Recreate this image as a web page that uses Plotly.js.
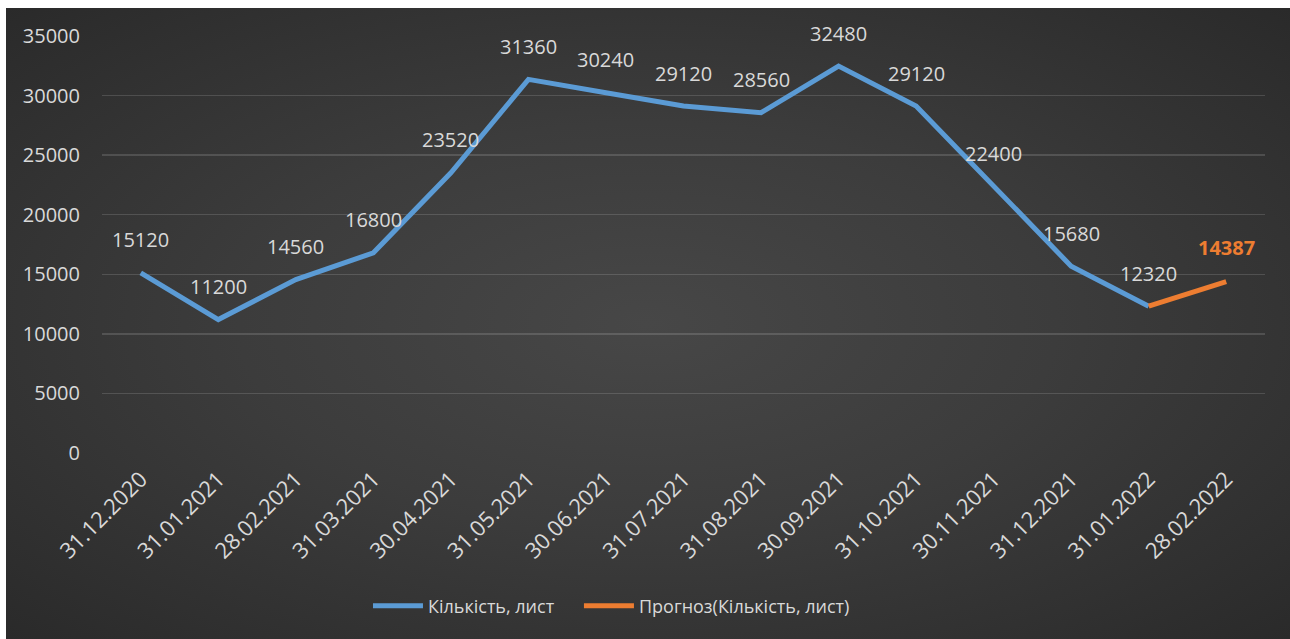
<!DOCTYPE html>
<html>
<head>
<meta charset="utf-8">
<script src="https://cdn.plot.ly/plotly-3.0.1.min.js"></script>
<style>
  html, body { margin: 0; padding: 0; background: #ffffff; }
  #wrap { position: absolute; left: 6px; top: 8px; width: 1284px; height: 631px;
    background: radial-gradient(ellipse farthest-corner at 50% 50%, #474747 0%, #3c3c3c 45%, #2a2a2a 100%); }
  #chart { width: 1284px; height: 631px; }
</style>
</head>
<body>
<div id="wrap"><div id="chart"></div></div>
<script>
const categories = ["31.12.2020","31.01.2021","28.02.2021","31.03.2021","30.04.2021","31.05.2021","30.06.2021","31.07.2021","31.08.2021","30.09.2021","31.10.2021","30.11.2021","31.12.2021","31.01.2022","28.02.2022"];
const actualDates = categories.slice(0, 14);
const actualValues = [15120, 11200, 14560, 16800, 23520, 31360, 30240, 29120, 28560, 32480, 29120, 22400, 15680, 12320];
const forecastDates = ["31.01.2022", "28.02.2022"];
const forecastValues = [12320, 14387];
const yTicks = [0, 5000, 10000, 15000, 20000, 25000, 30000, 35000];
const seriesNames = ["Кількість, лист", "Прогноз(Кількість, лист)"];

const FONT = '"Open Sans", "DejaVu Sans", sans-serif';
const TXT = '#d9d9d9';
const BLUE = '#5b9bd5';
const ORANGE = '#ed7d31';

const traces = [
  { x: actualDates, y: actualValues, type: 'scatter', mode: 'lines', name: seriesNames[0],
    legend: 'legend', line: { color: BLUE, width: 5 }, hoverinfo: 'skip' },
  { x: forecastDates, y: forecastValues, type: 'scatter', mode: 'lines', name: seriesNames[1],
    legend: 'legend2', line: { color: ORANGE, width: 5 }, hoverinfo: 'skip' }
];

const annotations = actualValues.map((v, i) => ({
  x: actualDates[i], y: v, xref: 'x', yref: 'y', text: String(v), showarrow: false,
  yshift: 33, font: { family: FONT, size: 20, color: TXT }
}));
annotations.push({
  x: forecastDates[1], y: forecastValues[1], xref: 'x', yref: 'y', text: '<b>' + forecastValues[1] + '</b>',
  showarrow: false, yshift: 34, font: { family: FONT, size: 20, color: ORANGE }
});

const legendStyle = { orientation: 'h', xanchor: 'left', y: -0.367, yanchor: 'middle',
  font: { family: FONT, size: 18, color: TXT }, itemwidth: 50, bgcolor: 'rgba(0,0,0,0)' };

const layout = {
  width: 1284, height: 631,
  margin: { l: 96, r: 25, t: 28, b: 186 },
  paper_bgcolor: 'rgba(0,0,0,0)', plot_bgcolor: 'rgba(0,0,0,0)',
  font: { family: FONT, color: TXT, size: 20 },
  showlegend: true,
  legend: Object.assign({}, legendStyle, { x: 0.2287 }),
  legend2: Object.assign({}, legendStyle, { x: 0.4101 }),
  xaxis: { type: 'category', categoryorder: 'array', categoryarray: categories,
    range: [-0.5, 14.5], showgrid: false, zeroline: false, showline: false,
    tickangle: -45, ticks: '', ticklabelstandoff: 8,
    tickfont: { family: FONT, size: 22, color: TXT }, fixedrange: true },
  yaxis: { range: [0, 35000], tickvals: yTicks, ticktext: yTicks.map(String),
    showgrid: true, gridcolor: 'rgba(255,255,255,0.14)', gridwidth: 1.5, zeroline: false,
    showline: false, ticks: '', ticklabelstandoff: 21,
    tickfont: { family: FONT, size: 20, color: TXT }, fixedrange: true },
  annotations: annotations
};

Plotly.newPlot('chart', traces, layout, { displayModeBar: false, staticPlot: true });
</script>
</body>
</html>
